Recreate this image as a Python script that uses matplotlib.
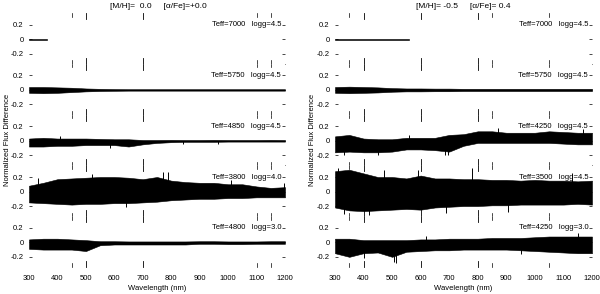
import numpy as np
import matplotlib.pyplot as plt
import matplotlib.transforms as mtransforms

plt.rcParams['font.family'] = ['Liberation Sans', 'DejaVu Sans']
plt.rcParams['font.size'] = 5.5
plt.rcParams['axes.unicode_minus'] = False

# common wavelength grid (nm) for the envelope of each residual spectrum
wl = [300, 350, 400, 450, 500, 550, 600, 650, 700, 750, 800, 850, 900, 950, 1000, 1050, 1100, 1150, 1200]

# ---- left column : [M/H]=0.0 ----
l1_wl = [300, 365]
l1_hi = [0.006, 0.006]
l1_lo = [-0.006, -0.006]

l2_hi = [0.04, 0.04, 0.035, 0.03, 0.02, 0.015, 0.012, 0.01, 0.01, 0.01, 0.01, 0.01, 0.01, 0.01, 0.01, 0.01, 0.01, 0.01, 0.01]
l2_lo = [-0.04, -0.045, -0.04, -0.03, -0.02, -0.015, -0.012, -0.01, -0.01, -0.01, -0.01, -0.01, -0.01, -0.01, -0.01, -0.01, -0.01, -0.01, -0.01]

l3_hi = [0.03, 0.04, 0.03, 0.03, 0.03, 0.025, 0.02, 0.02, 0.01, 0.01, 0.012, 0.01, 0.01, 0.012, 0.01, 0.01, 0.01, 0.012, 0.01]
l3_lo = [-0.08, -0.08, -0.07, -0.07, -0.06, -0.06, -0.06, -0.08, -0.05, -0.03, -0.02, -0.015, -0.015, -0.015, -0.012, -0.012, -0.012, -0.012, -0.012]

l4_hi = [0.08, 0.12, 0.17, 0.18, 0.19, 0.2, 0.2, 0.19, 0.17, 0.2, 0.15, 0.13, 0.12, 0.12, 0.1, 0.1, 0.07, 0.05, 0.06]
l4_lo = [-0.15, -0.16, -0.17, -0.18, -0.17, -0.17, -0.16, -0.16, -0.15, -0.14, -0.12, -0.11, -0.1, -0.1, -0.09, -0.09, -0.08, -0.08, -0.08]

l5_hi = [0.04, 0.05, 0.05, 0.04, 0.03, 0.015, 0.015, 0.012, 0.012, 0.012, 0.012, 0.012, 0.015, 0.015, 0.012, 0.012, 0.012, 0.015, 0.015]
l5_lo = [-0.09, -0.1, -0.1, -0.1, -0.12, -0.04, -0.03, -0.03, -0.03, -0.03, -0.03, -0.03, -0.02, -0.02, -0.025, -0.025, -0.02, -0.02, -0.02]

# ---- right column : [M/H]=-0.5 ----
r1_wl = [300, 560]
r1_hi = [0.008, 0.008]
r1_lo = [-0.008, -0.008]

r2_hi = [0.04, 0.045, 0.04, 0.035, 0.025, 0.02, 0.02, 0.018, 0.018, 0.015, 0.015, 0.015, 0.015, 0.015, 0.015, 0.015, 0.015, 0.015, 0.015]
r2_lo = [-0.04, -0.045, -0.04, -0.035, -0.025, -0.02, -0.02, -0.018, -0.018, -0.015, -0.015, -0.015, -0.015, -0.015, -0.015, -0.015, -0.015, -0.015, -0.015]

r3_hi = [0.06, 0.08, 0.03, 0.02, 0.02, 0.04, 0.04, 0.04, 0.08, 0.09, 0.13, 0.13, 0.11, 0.11, 0.11, 0.13, 0.12, 0.11, 0.11]
r3_lo = [-0.16, -0.15, -0.16, -0.16, -0.15, -0.12, -0.12, -0.13, -0.15, -0.07, -0.03, -0.03, -0.03, -0.03, -0.03, -0.03, -0.04, -0.05, -0.05]

r4_hi = [0.28, 0.3, 0.25, 0.2, 0.2, 0.18, 0.22, 0.18, 0.18, 0.17, 0.17, 0.16, 0.16, 0.15, 0.16, 0.15, 0.15, 0.14, 0.15]
r4_lo = [-0.22, -0.26, -0.27, -0.26, -0.25, -0.24, -0.25, -0.22, -0.21, -0.2, -0.2, -0.19, -0.19, -0.18, -0.18, -0.18, -0.18, -0.17, -0.18]

r5_hi = [0.05, 0.05, 0.03, 0.03, 0.03, 0.03, 0.04, 0.04, 0.05, 0.05, 0.05, 0.06, 0.06, 0.06, 0.07, 0.08, 0.08, 0.08, 0.08]
r5_lo = [-0.15, -0.2, -0.15, -0.14, -0.2, -0.13, -0.12, -0.11, -0.11, -0.1, -0.1, -0.1, -0.1, -0.11, -0.12, -0.13, -0.14, -0.15, -0.15]

# isolated spikes (wavelength, extreme value)
l3_spike_wl = [410, 585, 842, 966]
l3_spike_val = [0.07, -0.1, -0.05, -0.05]
l4_spike_wl = [330, 520, 640, 770, 790, 1010, 1195]
l4_spike_val = [0.18, 0.24, -0.21, 0.27, 0.27, 0.16, 0.12]
r3_spike_wl = [330, 450, 560, 685, 695, 870, 1170]
r3_spike_val = [-0.2, -0.2, 0.08, -0.19, -0.2, 0.17, 0.16]
r4_spike_wl = [310, 330, 420, 470, 590, 690, 780, 905, 1130]
r4_spike_val = [0.33, -0.31, -0.32, 0.3, 0.3, -0.3, 0.33, -0.28, 0.26]
r5_spike_wl = [400, 505, 515, 620, 950, 1150]
r5_spike_val = [-0.22, -0.27, -0.28, 0.09, -0.16, 0.13]

left_labels = ["Teff=7000   logg=4.5", "Teff=5750   logg=4.5", "Teff=4850   logg=4.5",
               "Teff=3800   logg=4.0", "Teff=4800   logg=3.0"]
right_labels = ["Teff=7000   logg=4.5", "Teff=5750   logg=4.5", "Teff=4250   logg=4.5",
                "Teff=3500   logg=4.5", "Teff=4250   logg=3.0"]

left_long = [500, 700]
left_short = [450, 1100, 1150]
right_long = [400, 600, 800]
right_short = [350, 850, 1050]

xticks = [300, 400, 500, 600, 700, 800, 900, 1000, 1100, 1200]

left_data = [(l1_wl, l1_hi, l1_lo, [], []),
             (wl, l2_hi, l2_lo, [], []),
             (wl, l3_hi, l3_lo, l3_spike_wl, l3_spike_val),
             (wl, l4_hi, l4_lo, l4_spike_wl, l4_spike_val),
             (wl, l5_hi, l5_lo, [], [])]
right_data = [(r1_wl, r1_hi, r1_lo, [], []),
              (wl, r2_hi, r2_lo, [], []),
              (wl, r3_hi, r3_lo, r3_spike_wl, r3_spike_val),
              (wl, r4_hi, r4_lo, r4_spike_wl, r4_spike_val),
              (wl, r5_hi, r5_lo, r5_spike_wl, r5_spike_val)]

fig = plt.figure(figsize=(6, 2.94), dpi=100)

top = 1 - 13 / 294.
bot = 1 - 267 / 294.
h = (top - bot) / 5.


def make_column(x0, w, data, labels, long_m, short_m, title, title_x, ylab_x):
    for i in range(5):
        ax = fig.add_axes([x0, top - (i + 1) * h, w, h])
        x, hi, lo, sw, sv = data[i]
        ax.fill_between(x, lo, hi, color='k', lw=0.4)
        if len(sw):
            ax.vlines(sw, 0, sv, color='k', lw=0.7)
        ax.set_xlim(300, 1200)
        ax.set_ylim(-0.34, 0.36)
        ax.set_yticks([-0.2, 0, 0.2])
        ax.set_yticklabels(['-0.2', '0', '0.2'])
        ax.tick_params(axis='y', direction='in', length=2.5, width=0.5,
                       left=True, right=True, pad=4, labelsize=5.5)
        ax.set_xticks(xticks)
        ax.tick_params(axis='x', length=0, pad=6, labelsize=5.5)
        for s in ax.spines.values():
            s.set_visible(False)
        if i in (0, 2):
            ax.spines['bottom'].set_visible(True)
            ax.spines['bottom'].set_color('0.45')
            ax.spines['bottom'].set_linewidth(0.6)
        if i < 4:
            ax.set_xticklabels([])
        else:
            ax.set_xlabel("Wavelength (nm)", labelpad=2, fontsize=5.5)

        # wavelength markers at top and bottom of each panel
        trans = ax.get_xaxis_transform()
        for m in long_m:
            ax.plot([m, m], [0, 0.12], transform=trans, color='k', lw=0.6, clip_on=False)
            ax.plot([m, m], [0.88, 1], transform=trans, color='k', lw=0.6, clip_on=False)
        for m in short_m:
            ax.plot([m, m], [0, 0.07], transform=trans, color='k', lw=0.5, clip_on=False)
            ax.plot([m, m], [0.93, 1], transform=trans, color='k', lw=0.5, clip_on=False)

        tr = mtransforms.blended_transform_factory(ax.transAxes, ax.transData)
        ax.text(0.985, 0.2, labels[i], transform=tr, ha='right', va='center', fontsize=5.5)

    fig.text(title_x, 1 - 6 / 294., title, ha='center', va='center', fontsize=6)
    fig.text(ylab_x, 1 - 140 / 294., "Normalized Flux Difference", rotation=90,
             ha='center', va='center', fontsize=5.5)


make_column(29 / 600., 256 / 600., left_data, left_labels, left_long, left_short,
            u"[M/H]=  0.0     [\u03b1/Fe]=+0.0", 158 / 600., 8 / 600.)
make_column(335 / 600., 257 / 600., right_data, right_labels, right_long, right_short,
            u"[M/H]= -0.5     [\u03b1/Fe]= 0.4", 463 / 600., 313 / 600.)

fig.savefig("out.png", dpi=100)
